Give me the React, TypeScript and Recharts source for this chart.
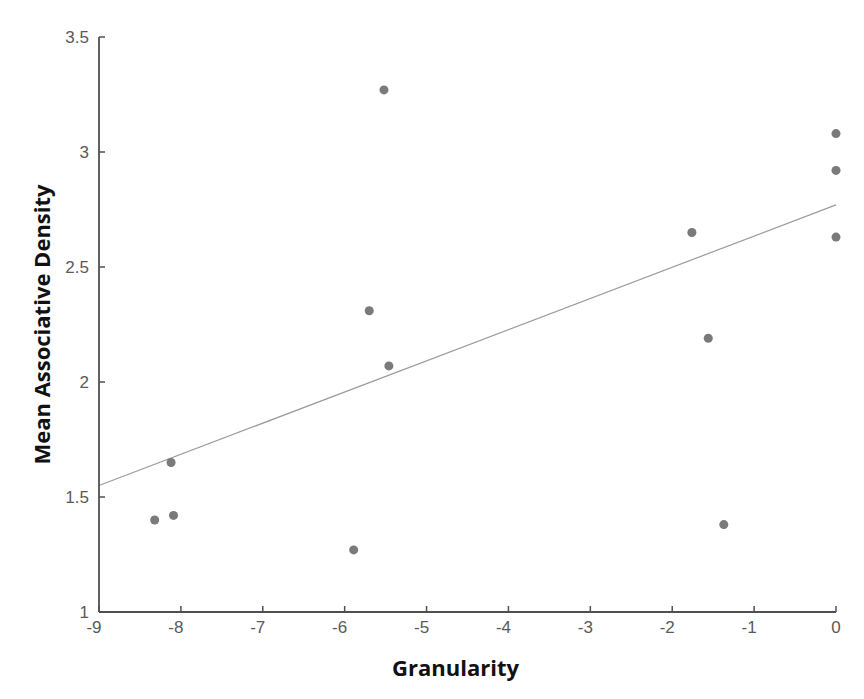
import React from 'react';
import { ScatterChart, Scatter, XAxis, YAxis, ReferenceLine, Label } from 'recharts';

// values
const granularity = [-8.32, -8.12, -8.09, -5.89, -5.7, -5.52, -5.46, -1.76, -1.56, -1.37, 0, 0, 0];
const density = [1.4, 1.65, 1.42, 1.27, 2.31, 3.27, 2.07, 2.65, 2.19, 1.38, 3.08, 2.92, 2.63];

const xTicks = [-9, -8, -7, -6, -5, -4, -3, -2, -1, 0];
const yTicks = [1, 1.5, 2, 2.5, 3, 3.5];

// fitted line end points
const fitX = [-9, 0];
const fitY = [1.55, 2.77];

const points = granularity.map((g, i) => ({ x: g, y: density[i] }));
const fitLine = fitX.map((x, i) => ({ x, y: fitY[i] }));

const AXIS = '#505050';
const TICK_LEN = 6;
const X_GAP = 3;
const Y_GAP = 4;
const tickFont = { fontFamily: 'Liberation Sans', fontSize: 17, fill: '#5a5a5a' };
const labelStyle = { fontFamily: 'Open Sans', fontSize: 22, fontWeight: 700, fill: '#111' };

// tick marks point inward, so they are drawn here instead of by the axis
const XTick = (props: any) => {
    const { x, y, payload } = props;
    const axisY = y - TICK_LEN - X_GAP;
    // digit sits on the tick, the minus hangs to the left
    const shift = payload.value < 0 ? -5 : 0;
    return <g>
        <line x1={x} x2={x} y1={axisY} y2={axisY - TICK_LEN} stroke={AXIS} strokeWidth={1.5} />
        <text x={x + shift} y={y} dy="0.71em" textAnchor="middle" style={tickFont}>{payload.value}</text>
    </g>;
};

const YTick = (props: any) => {
    const { x, y, payload } = props;
    const axisX = x + TICK_LEN + Y_GAP;
    return <g>
        <line x1={axisX} x2={axisX + TICK_LEN} y1={y} y2={y} stroke={AXIS} strokeWidth={1.5} />
        <text x={x} y={y} dy="0.355em" textAnchor="end" style={tickFont}>{payload.value}</text>
    </g>;
};

export default function App() {
    return <ScatterChart
        width={850}
        height={680}
        margin={{ top: 29, right: 22, left: 31, bottom: 6 }}
    >
        <XAxis
            type="number"
            dataKey="x"
            domain={[-9, 0]}
            ticks={xTicks}
            height={70}
            tickSize={TICK_LEN}
            tickMargin={X_GAP}
            tickLine={false}
            stroke={AXIS}
            strokeWidth={1.8}
            tick={<XTick />}
        >
            <Label value="Granularity" position="center" dx={-12} dy={21} style={labelStyle} />
        </XAxis>
        <YAxis
            type="number"
            dataKey="y"
            domain={[1, 3.5]}
            ticks={yTicks}
            width={60}
            tickSize={TICK_LEN}
            tickMargin={Y_GAP}
            tickLine={false}
            stroke={AXIS}
            strokeWidth={1.8}
            tick={<YTick />}
        >
            <Label value="Mean Associative Density" position="center" angle={-90} dx={-27} style={labelStyle} />
        </YAxis>
        <ReferenceLine segment={fitLine} stroke="#9a9a9a" strokeWidth={1.2} />
        <Scatter data={points} fill="#7a7a7a" isAnimationActive={false} />
    </ScatterChart>;
}
